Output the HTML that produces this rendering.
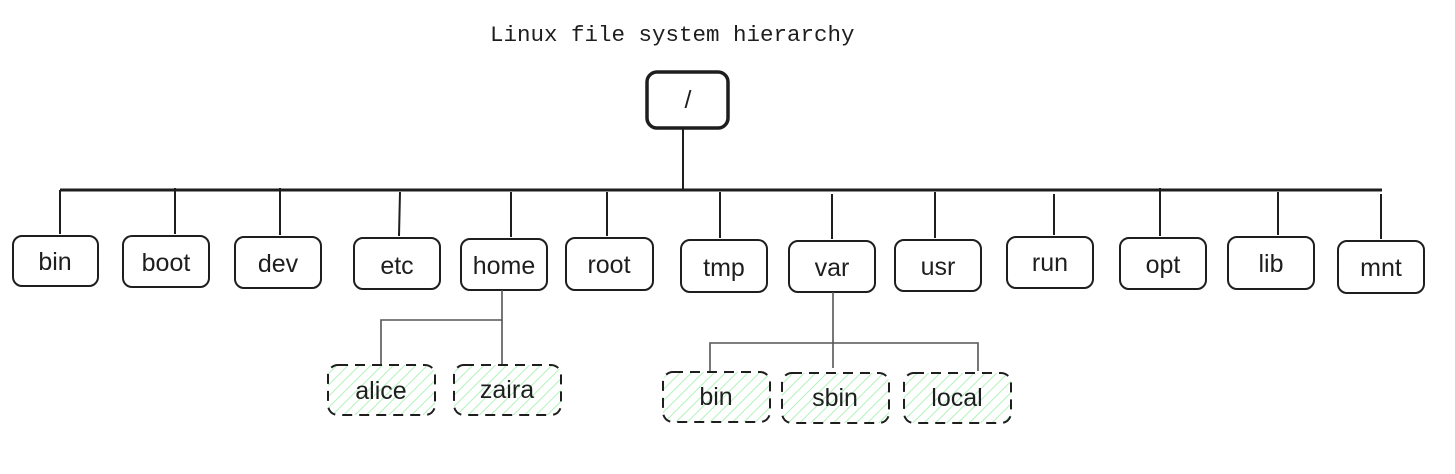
<!DOCTYPE html>
<html><head><meta charset="utf-8"><style>
html,body{margin:0;padding:0;background:#fff;width:1455px;height:474px;overflow:hidden}
text{font-family:"Liberation Sans",sans-serif;font-size:25px;fill:#1e1e1e}
</style></head><body>
<svg width="1455" height="474" xmlns="http://www.w3.org/2000/svg">
<defs>
<pattern id="h" width="8" height="8" patternUnits="userSpaceOnUse" patternTransform="rotate(45)">
<line x1="0" y1="0" x2="0" y2="8" stroke="#b2f2bb" stroke-width="2"/>
</pattern>
</defs>
<text x="490" y="41" style="font-family:'Liberation Mono',monospace;font-size:22.5px">Linux file system hierarchy</text>
<g stroke="#1e1e1e" fill="none" stroke-width="2">
<rect x="647" y="72" width="81" height="56" rx="10" stroke-width="3.5"/>
<line x1="683" y1="128" x2="683" y2="190"/>
<line x1="60" y1="190" x2="1382" y2="190" stroke-width="3"/>
<line x1="60" y1="190" x2="60" y2="234"/>
<line x1="175" y1="188" x2="175" y2="234"/>
<line x1="280" y1="188" x2="280" y2="235"/>
<line x1="400" y1="192" x2="399" y2="236"/>
<line x1="511" y1="192" x2="511" y2="237"/>
<line x1="607" y1="192" x2="607" y2="236"/>
<line x1="720" y1="192" x2="720" y2="238"/>
<line x1="832" y1="194" x2="832" y2="239"/>
<line x1="935" y1="192" x2="935" y2="238"/>
<line x1="1054" y1="194" x2="1054" y2="235"/>
<line x1="1160" y1="188" x2="1160" y2="236"/>
<line x1="1278" y1="192" x2="1278" y2="235"/>
<line x1="1381" y1="194" x2="1381" y2="239"/>
<rect x="13" y="236" width="85" height="50" rx="9"/>
<rect x="123" y="236" width="86" height="51" rx="9"/>
<rect x="235" y="237" width="86" height="51" rx="9"/>
<rect x="354" y="238" width="86" height="51" rx="9"/>
<rect x="461" y="239" width="86" height="51" rx="9"/>
<rect x="566" y="238" width="87" height="52" rx="9"/>
<rect x="681" y="240" width="86" height="52" rx="9"/>
<rect x="789" y="241" width="86" height="51" rx="9"/>
<rect x="895" y="240" width="86" height="51" rx="9"/>
<rect x="1007" y="237" width="86" height="51" rx="9"/>
<rect x="1120" y="238" width="86" height="51" rx="9"/>
<rect x="1228" y="237" width="86" height="52" rx="9"/>
<rect x="1338" y="241" width="86" height="52" rx="9"/>
<g stroke="#555" stroke-width="1.6">
<polyline points="502,290 502,320 381,320 381,365"/>
<line x1="502" y1="320" x2="502" y2="364"/>
<line x1="833" y1="292" x2="833" y2="368"/>
<polyline points="710,371 710,343 978,343 978,371"/>
</g>
<g fill="url(#h)" stroke-dasharray="10 7">
<rect x="328" y="365" width="107" height="50" rx="10"/>
<rect x="454" y="365" width="107" height="50" rx="10"/>
<rect x="663" y="372" width="107" height="50" rx="10"/>
<rect x="782" y="373" width="107" height="50" rx="10"/>
<rect x="904" y="373" width="107" height="50" rx="10"/>
</g>
</g>
<g text-anchor="middle">
<text x="688" y="108">/</text>
<text x="55" y="270">bin</text>
<text x="166" y="271">boot</text>
<text x="278" y="272">dev</text>
<text x="397" y="274">etc</text>
<text x="504" y="274">home</text>
<text x="609" y="273">root</text>
<text x="724" y="276">tmp</text>
<text x="832" y="276">var</text>
<text x="938" y="275">usr</text>
<text x="1050" y="271">run</text>
<text x="1163" y="273">opt</text>
<text x="1271" y="272">lib</text>
<text x="1381" y="276">mnt</text>
<text x="381" y="399">alice</text>
<text x="507" y="398">zaira</text>
<text x="716" y="405">bin</text>
<text x="835" y="406">sbin</text>
<text x="957" y="406">local</text>
</g>
</svg>
</body></html>
